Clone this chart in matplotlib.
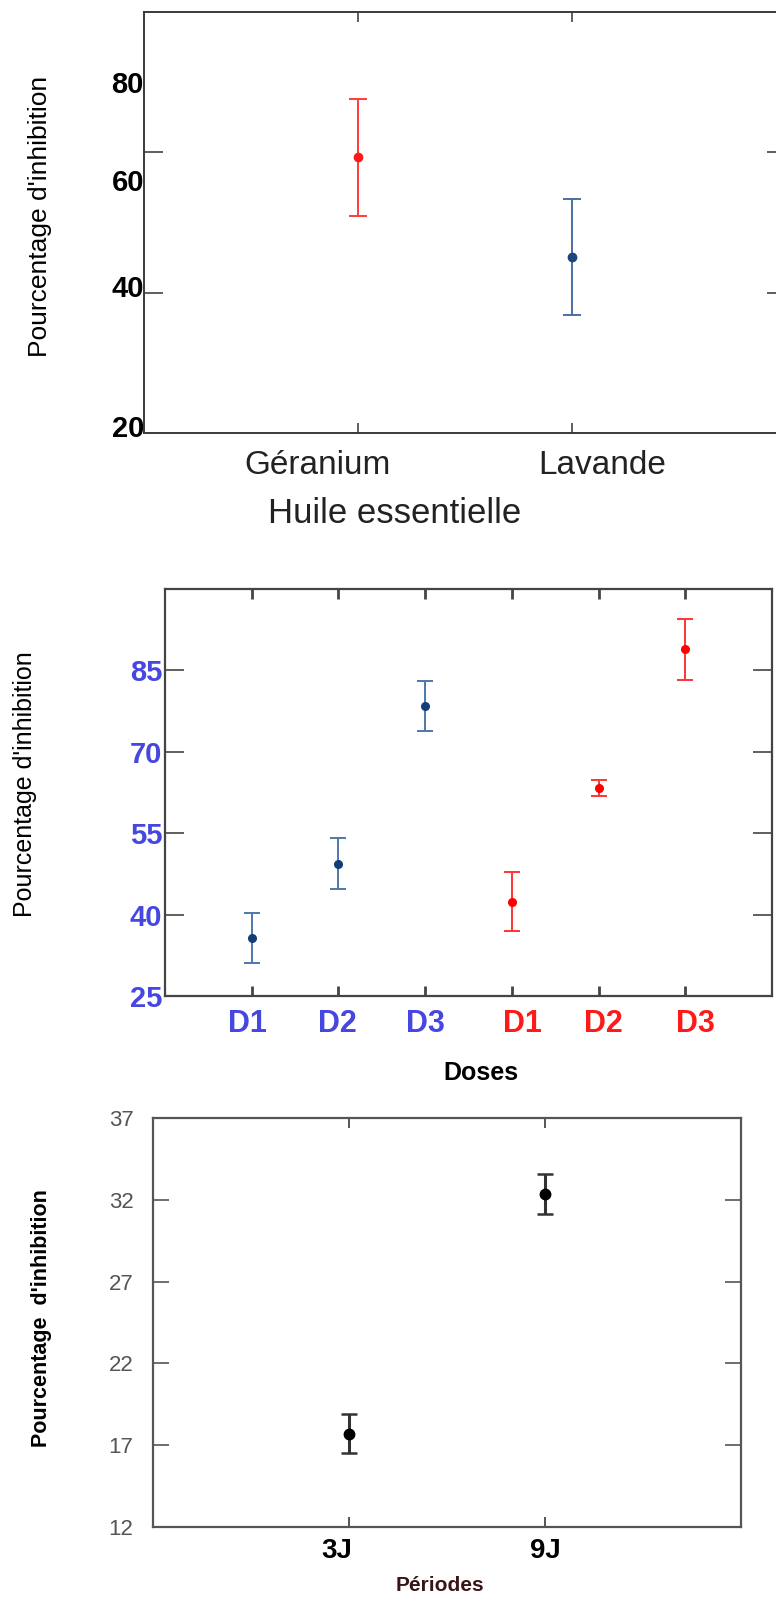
import matplotlib
matplotlib.use('Agg')
import matplotlib.pyplot as plt
from matplotlib import font_manager

# polices disponibles
noms = set(f.name for f in font_manager.fontManager.ttflist)
def police(liste):
    for nom in liste:
        if nom in noms:
            return nom
    return 'DejaVu Sans'

ARIAL = police(['Liberation Sans', 'Arial', 'DejaVu Sans'])
NARROW = police(['Liberation Sans Narrow', 'Arial Narrow', 'Liberation Sans'])

# --- données ---
huiles = ['Géranium', 'Lavande']
huile_moy = [59.3, 45.1]
huile_err = [8.35, 8.3]
huile_coul = ['#ff1a1a', '#1d4580']
huile_coul_err = ['#ff3b3b', '#4a6fa5']

doses = ['D1', 'D2', 'D3', 'D1', 'D2', 'D3']
dose_moy = [35.7, 49.4, 78.5, 42.4, 63.3, 88.9]
dose_err = [4.6, 4.75, 4.6, 5.4, 1.5, 5.6]
dose_coul = ['#123d78'] * 3 + ['#ff0000'] * 3
dose_coul_err = ['#4f77aa'] * 3 + ['#ff3333'] * 3
dose_coul_lab = ['#4646e0'] * 3 + ['#ff1a1a'] * 3

periodes = ['3J', '9J']
periode_moy = [17.7, 32.35]
periode_err = [1.2, 1.2]

fig = plt.figure(figsize=(7.76, 16.02), dpi=100)

# ================= graphe 1 : huile essentielle =================
ax1 = fig.add_axes([144/776, 1 - 433/1602, 642/776, 421/1602])
for i in range(len(huiles)):
    ax1.errorbar(i + 1, huile_moy[i], yerr=huile_err[i], fmt='o', color=huile_coul[i],
                 ecolor=huile_coul_err[i], elinewidth=1.4, capsize=6.5, capthick=1.4, ms=6)
ax1.set_xlim(0, 3)
ax1.set_ylim(20, 80)
ax1.xaxis.remove_overlapping_locs = False
ax1.yaxis.remove_overlapping_locs = False
ax1.set_xticks([1, 2])
ax1.set_xticklabels([])
ax1.set_yticks([40, 60])
ax1.set_yticklabels([])
# étiquettes décalées comme sur la figure d'origine
ax1.set_xticks([0.81, 2.14], minor=True)
ax1.set_xticklabels(huiles, minor=True, fontsize=24, family=ARIAL, color='#222222')
ax1.set_yticks([21, 41, 56, 70], minor=True)
ax1.set_yticklabels(['20', '40', '60', '80'], minor=True, fontsize=21,
                    fontweight='bold', family=ARIAL)
ax1.tick_params(which='major', direction='in', length=13.5, width=1.1, color='#333333',
                left=True, right=True, top=True, bottom=True)
ax1.tick_params(axis='x', which='major', length=7)
ax1.tick_params(which='minor', length=0)
ax1.tick_params(axis='x', which='minor', pad=12)
ax1.tick_params(axis='y', which='minor', pad=0)
for s in ax1.spines.values():
    s.set_color('#3a3a3a')
    s.set_linewidth(1.4)
ax1.set_xlabel('Huile essentielle', fontsize=25, family=ARIAL, color='#222222', va='center')
ax1.xaxis.set_label_coords(0.391, -0.192)
ax1.set_ylabel("Pourcentage d'inhibition", fontsize=19, family=NARROW, va='center')
ax1.yaxis.set_label_coords(-0.162, 0.515)

# ================= graphe 2 : doses =================
ax2 = fig.add_axes([165/776, 1 - 996/1602, 607/776, 407/1602])
for i in range(len(doses)):
    ax2.errorbar(i + 1, dose_moy[i], yerr=dose_err[i], fmt='o', color=dose_coul[i],
                 ecolor=dose_coul_err[i], elinewidth=1.4, capsize=5.5, capthick=1.4, ms=5.5)
ax2.set_xlim(0, 7)
ax2.set_ylim(25, 100)
ax2.xaxis.remove_overlapping_locs = False
ax2.set_xticks(range(1, len(doses) + 1))
ax2.set_xticklabels([])
# étiquettes légèrement décalées, comme sur l'original
ax2.set_xticks([0.95, 1.99, 3.0, 4.12, 5.05, 6.12], minor=True)
ax2.set_xticklabels(doses, minor=True, fontsize=22, fontweight='bold', family=ARIAL)
ax2.set_yticks([25, 40, 55, 70, 85])
ax2.set_yticklabels(['25', '40', '55', '70', '85'], fontsize=21, fontweight='bold',
                    family=ARIAL, color='#4646e0')
ax2.tick_params(direction='in', left=True, right=True, top=True, bottom=True, color='#444444')
ax2.tick_params(axis='y', length=13.5, width=1.2, pad=2)
ax2.tick_params(axis='x', which='major', length=7, width=2)
ax2.tick_params(axis='x', which='minor', length=0, pad=9)
for s in ax2.spines.values():
    s.set_color('#444444')
    s.set_linewidth(1.6)
ax2.set_xlabel('Doses', fontsize=18, fontweight='bold', family=ARIAL, va='center')
ax2.xaxis.set_label_coords(0.52, -0.19)
ax2.set_ylabel("Pourcentage d'inhibition", fontsize=18, family=NARROW, va='center')
ax2.yaxis.set_label_coords(-0.231, 0.521)

# ================= graphe 3 : périodes =================
ax3 = fig.add_axes([153/776, 1 - 1527/1602, 588/776, 409/1602])
ax3.errorbar(range(1, len(periodes) + 1), periode_moy, yerr=periode_err, fmt='o',
             color='black', ecolor='#333333', elinewidth=2.2, capsize=6, capthick=1.8, ms=7.5)
ax3.set_xlim(0, 3)
ax3.set_ylim(12, 37)
ax3.xaxis.remove_overlapping_locs = False
ax3.set_xticks(range(1, len(periodes) + 1))
ax3.set_xticklabels([])
ax3.set_xticks([0.94, 2.0], minor=True)
ax3.set_xticklabels(periodes, minor=True, fontsize=20, fontweight='bold', family=ARIAL)
ax3.set_yticks([12, 17, 22, 27, 32, 37])
ax3.set_yticklabels(['12', '17', '22', '27', '32', '37'], fontsize=16, family=ARIAL,
                    color='#555555')
ax3.tick_params(direction='in', left=True, right=True, top=True, bottom=True, color='#555555')
ax3.tick_params(axis='y', length=11.5, width=1.2, pad=14)
ax3.tick_params(axis='x', which='major', length=7, width=1.4)
ax3.tick_params(axis='x', which='minor', length=0, pad=8)
for s in ax3.spines.values():
    s.set_color('#555555')
    s.set_linewidth(1.6)
ax3.set_xlabel('Périodes', fontsize=15, fontweight='bold', family=ARIAL, color='#3a1515',
               va='center')
ax3.xaxis.set_label_coords(0.488, -0.142)
ax3.set_ylabel("Pourcentage  d'inhibition", fontsize=15.5, fontweight='bold', family=NARROW,
               va='center')
ax3.yaxis.set_label_coords(-0.19, 0.511)

# couleurs des étiquettes de doses (après un premier rendu)
fig.canvas.draw()
for t, c in zip(ax2.xaxis.get_minor_ticks(), dose_coul_lab):
    t.label1.set_color(c)

fig.savefig('out.png', dpi=100)
plt.close(fig)
